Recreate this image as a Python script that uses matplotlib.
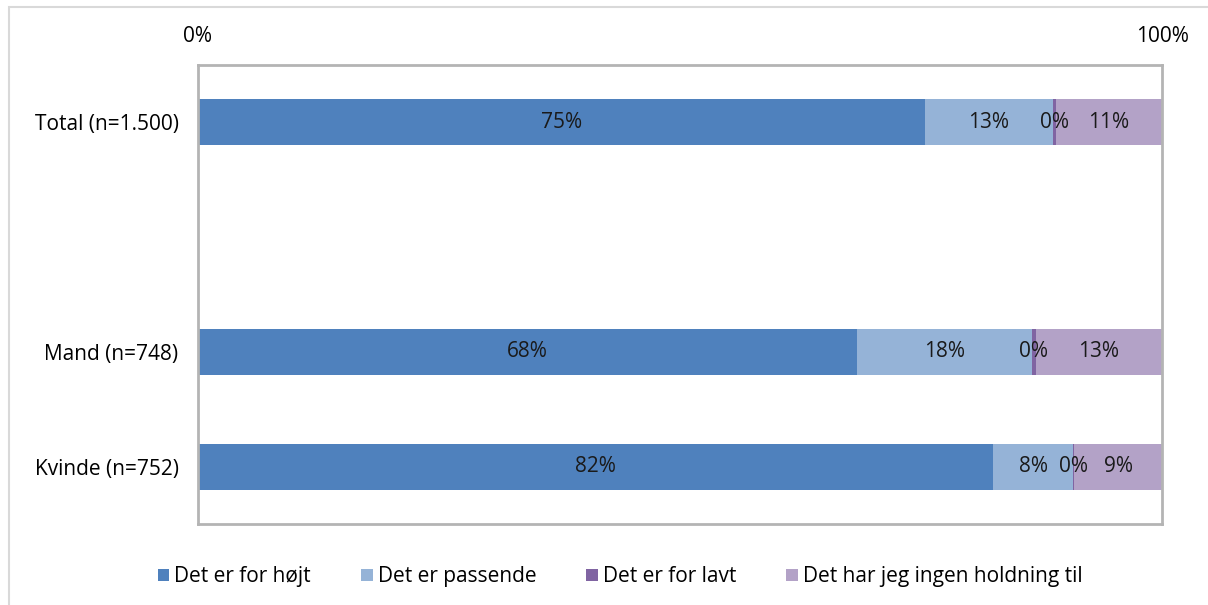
import matplotlib.pyplot as plt
from matplotlib.patches import Rectangle

plt.rcParams['font.family'] = ['Open Sans', 'DejaVu Sans']

# data
kategorier = ["Total (n=1.500)", "", "Mand (n=748)", "Kvinde (n=752)"]
serier = ["Det er for højt", "Det er passende", "Det er for lavt", "Det har jeg ingen holdning til"]
for_hojt = [75.4, None, 68.4, 82.49]
passende = [13.3, None, 18.1, 8.3]
for_lavt = [0.3, None, 0.4, 0.1]
ingen = [11.0, None, 13.1, 9.1]
farver = ["#4F81BD", "#95B3D7", "#8064A2", "#B3A2C7"]

fig = plt.figure(figsize=(12.08, 6.05), dpi=100)
# ydre kant
fig.patches.append(Rectangle((9 / 1208, -0.1), 1.2, 1 - 7 / 605 + 0.1, transform=fig.transFigure,
                             fill=False, edgecolor="#d9d9d9", linewidth=1.5))

ax = fig.add_axes([198 / 1208, 1 - 524 / 605, (1162 - 198) / 1208, (524 - 65) / 605])

y = list(range(len(kategorier)))
venstre = [0.0] * len(kategorier)
for navn, vaerdier, farve in zip(serier, [for_hojt, passende, for_lavt, ingen], farver):
    for i, v in enumerate(vaerdier):
        if v is None:
            continue
        ax.barh(y[i], v, left=venstre[i], height=0.4, color=farve, label=navn if i == 0 else None)
        ax.text(venstre[i] + v / 2, y[i], f"{round(v):.0f}%", ha="center", va="center",
                fontsize=15, color="#1a1a1a")
        venstre[i] += v

ax.set_xlim(0, 100)
ax.set_ylim(3.5, -0.5)
ax.set_yticks(y)
ax.set_yticklabels(kategorier, fontsize=15)
ax.set_xticks([0, 100])
ax.set_xticklabels(["0%", "100%"], fontsize=15)
ax.xaxis.tick_top()
ax.tick_params(length=0, pad=13)
ax.tick_params(axis="y", pad=14)
for s in ax.spines.values():
    s.set_color("#b4b4b4")
    s.set_linewidth(2)

ax.legend(loc="center", bbox_to_anchor=(0.438, -0.115), ncol=4, frameon=False, fontsize=15,
          handlelength=0.55, handleheight=0.55, handletextpad=0.25, columnspacing=2.4)

fig.savefig("out.png", dpi=100)
